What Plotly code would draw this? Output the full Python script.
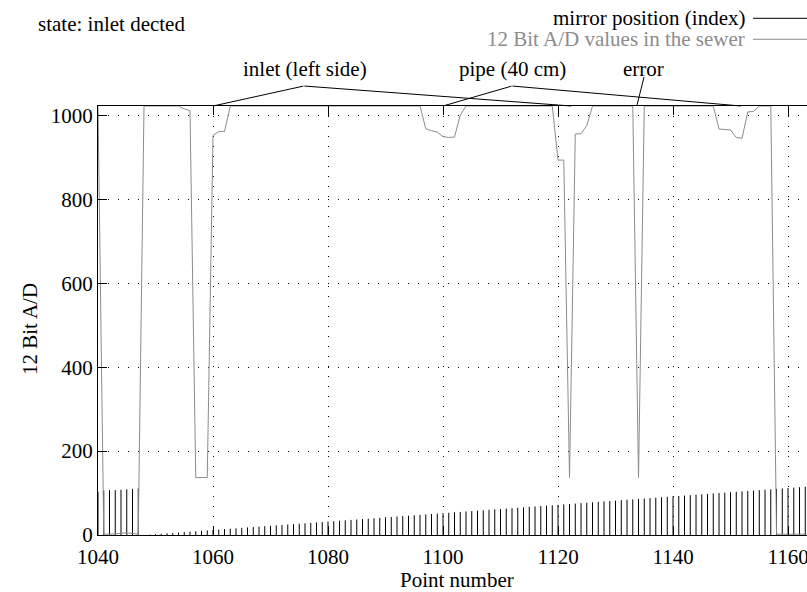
import plotly.graph_objects as go

# ---------------- data ----------------
point_number = list(range(1040, 1164))

# 12 Bit A/D values in the sewer (grey line)
ad_values = [
    1023, 2, 2, 3, 5, 5, 4, 2,                                  # 1040-1047
    1023, 1023, 1023, 1023, 1023, 1023, 1023, 1016, 1012,        # 1048-1056
    137, 137, 137, 953, 962, 962,                                # 1057-1062
    1023, 1023, 1023, 1023, 1023, 1023, 1023, 1023, 1023, 1023,  # 1063-1072
    1023, 1023, 1023, 1023, 1023, 1023, 1023, 1023, 1023, 1023,  # 1073-1082
    1023, 1023, 1023, 1023, 1023, 1023, 1023, 1023, 1023, 1023,  # 1083-1092
    1023, 1023, 1023, 1023,                                      # 1093-1096
    969, 964, 961, 950, 948, 949, 1001,                          # 1097-1103
    1023, 1023, 1023, 1023, 1023, 1023, 1023, 1023, 1023, 1023,  # 1104-1113
    1023, 1023, 1023, 1023, 1023, 1023,                          # 1114-1119
    894, 894, 137, 956, 957, 976,                                # 1120-1125
    1023, 1023, 1023, 1023, 1023, 1023, 1023, 1023,              # 1126-1133
    137,                                                         # 1134
    1023, 1023, 1023, 1023, 1023, 1023, 1023, 1023, 1023, 1023,  # 1135-1144
    1023, 1023, 1023,                                            # 1145-1147
    968, 967, 966, 948, 946, 1009, 1010,                         # 1148-1154
    1023, 1023, 1023,                                            # 1155-1157
    2, 2, 3, 2, 2, 2,                                            # 1158-1163
]

# mirror position (index) (black impulses)
mirror_index = [
    103, 106, 107, 107, 108, 109, 110, 111,                      # 1040-1047
    0, 1, 2, 3, 4, 5, 6, 7, 8, 9,                                # 1048-1057
    10, 11, 12, 13, 14, 15, 16, 17, 18, 19,                      # 1058-1067
    20, 21, 22, 23, 24, 25, 26, 27, 28, 29,                      # 1068-1077
    30, 31, 32, 33, 34, 35, 36, 37, 38, 39,                      # 1078-1087
    40, 41, 42, 43, 44, 45, 46, 47, 48, 49,                      # 1088-1097
    50, 51, 52, 53, 54, 55, 56, 57, 58, 59,                      # 1098-1107
    60, 61, 62, 63, 64, 65, 66, 67, 68, 69,                      # 1108-1117
    70, 71, 72, 73, 74, 75, 76, 77, 78, 79,                      # 1118-1127
    80, 81, 82, 83, 84, 85, 86, 87, 88, 89,                      # 1128-1137
    90, 91, 92, 93, 94, 95, 96, 97, 98, 99,                      # 1138-1147
    100, 101, 102, 103, 104, 105, 106, 107, 108, 109,            # 1148-1157
    110, 111, 112, 113, 114, 115,                                # 1158-1163
]

x_ticks = [1040, 1060, 1080, 1100, 1120, 1140, 1160]
y_ticks = [0, 200, 400, 600, 800, 1000]

series_names = ["mirror position (index)", "12 Bit A/D values in the sewer"]
state_text = "state: inlet dected"
x_title = "Point number"
y_title = "12 Bit A/D"

# callouts: label, label x (paper), leader-line vertex (data), targets (data x on top edge)
callouts = [
    ("inlet (left side)", 0.2920, (1075.8, 1070.7), [1060, 1122.3]),
    ("pipe (40 cm)", 0.5853, (1112.0, 1070.7), [1100, 1151.8]),
    ("error", 0.7687, (1135.0, 1094.5), [1133.7]),
]
callout_y = 1.0851
top_value = 1023

FONT = "Liberation Serif, Times New Roman, Times, serif"
FS = 21
GREY = "#8c8c8c"

# ---------------- figure ----------------
imp_x, imp_y = [], []
for px, v in zip(point_number, mirror_index):
    imp_x += [px, px, None]
    imp_y += [0, v, None]

fig = go.Figure()
fig.add_trace(go.Scatter(x=imp_x, y=imp_y, mode="lines",
                         line=dict(color="black", width=1),
                         name=series_names[0], showlegend=False))
fig.add_trace(go.Scatter(x=point_number, y=ad_values, mode="lines",
                         line=dict(color=GREY, width=1),
                         name=series_names[1], showlegend=False))

annotations = []
shapes = []

for label, tx, (ax, ay), targets in callouts:
    annotations.append(dict(x=tx, y=callout_y, xref="paper", yref="paper", text=label,
                            showarrow=False, font=dict(family=FONT, size=FS, color="black"),
                            xanchor="center", yanchor="middle"))
    for t in targets:
        annotations.append(dict(x=t, y=top_value, xref="x", yref="y",
                                ax=ax, ay=ay, axref="x", ayref="y",
                                text=" ", font=dict(size=1), borderpad=0,
                                showarrow=True, arrowhead=0, arrowwidth=1,
                                arrowcolor="black", standoff=0, startstandoff=0))

annotations.append(dict(x=-0.0874, y=1.1911, xref="paper", yref="paper",
                        text=state_text, showarrow=False, xanchor="left", yanchor="middle",
                        font=dict(family=FONT, size=FS, color="black")))

key_rows = [(series_names[0], "black", 1.2044), (series_names[1], GREY, 1.1555)]
for name, col, yy in key_rows:
    annotations.append(dict(x=0.9154, y=yy, xref="paper", yref="paper", text=name,
                            showarrow=False, xanchor="right", yanchor="middle",
                            font=dict(family=FONT, size=FS, color=col)))
    shapes.append(dict(type="line", xref="paper", yref="paper",
                       x0=0.9238, x1=1.0, y0=yy, y1=yy,
                       line=dict(color=col, width=1)))

annotations.append(dict(x=-0.0959, y=0.48, xref="paper", yref="paper", text=y_title,
                        textangle=-90, showarrow=False, xanchor="center", yanchor="middle",
                        font=dict(family=FONT, size=FS, color="black")))
annotations.append(dict(x=0.507, y=-0.1049, xref="paper", yref="paper", text=x_title,
                        showarrow=False, xanchor="center", yanchor="middle",
                        font=dict(family=FONT, size=FS, color="black")))

axis_common = dict(
    showline=True, linecolor="black", linewidth=1,
    ticks="inside", ticklen=9, tickcolor="black", tickwidth=1,
    showgrid=True, gridcolor="black", gridwidth=1, griddash="1px,9px",
    zeroline=False, ticklabeloverflow="allow",
    tickfont=dict(family=FONT, size=FS, color="black"),
)

fig.update_layout(
    width=807, height=592,
    margin=dict(l=98, r=0, t=106, b=57, autoexpand=False),
    paper_bgcolor="white", plot_bgcolor="white",
    showlegend=False,
    xaxis=dict(range=[1040, 1163.3], tickvals=x_ticks, mirror="ticks",
               ticklabelstandoff=3, **axis_common),
    yaxis=dict(range=[0, top_value], tickvals=y_ticks, mirror=False, **axis_common),
    annotations=annotations,
    shapes=shapes,
)

fig.write_html("out.html")
